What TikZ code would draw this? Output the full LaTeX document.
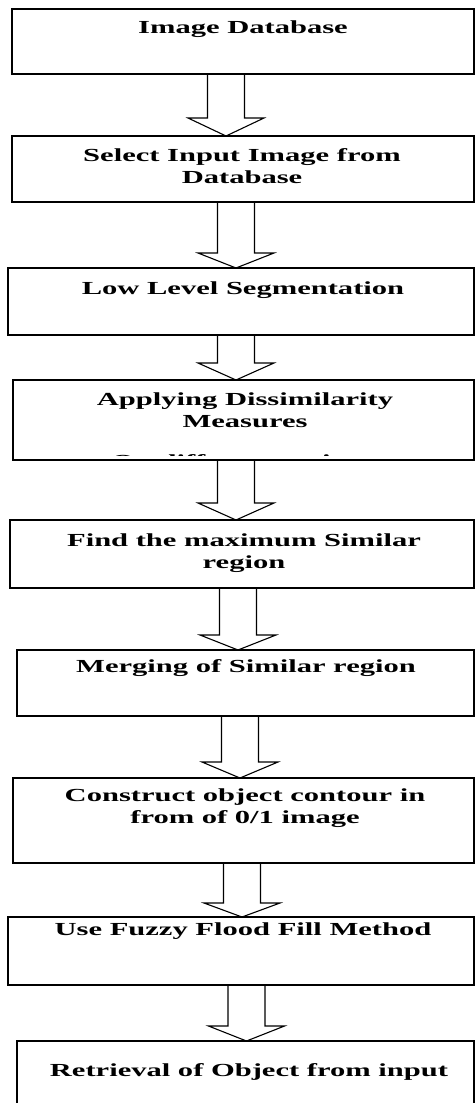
\documentclass[tikz,border=0pt]{standalone}
\usepackage{fontspec}
\setmainfont{Liberation Serif}[FakeStretch=1.66]
\usetikzlibrary{calc}
\tikzset{
  stepbox/.style={draw=black, line width=1.2pt, rectangle, inner sep=0pt, outer sep=0pt, anchor=north west},
  txt/.style={font=\fontsize{18.4}{22}\selectfont\bfseries, align=center, anchor=base, inner sep=0pt},
  barrow/.style={draw=black, line width=1.1pt, line join=miter},
}
\newcommand{\mkbox}[5]{%
  \node[stepbox, minimum width=#4pt-#2pt, minimum height=#5pt-#3pt] (#1) at (#2,-#3) {};}
\newcommand{\barr}[4]{%
  \draw[barrow] let \p1=(#1.south), \p2=(#2.north) in
    ({(#3-18.5)*1pt},\y1) -- ({(#3-18.5)*1pt},{-#4pt}) -- ({(#3-38)*1pt},{-#4pt})
    -- ({#3*1pt},\y2) -- ({(#3+38)*1pt},{-#4pt}) -- ({(#3+18.5)*1pt},{-#4pt})
    -- ({(#3+18.5)*1pt},\y1);}
\begin{document}
\begin{tikzpicture}[x=1pt,y=1pt]
\useasboundingbox (0,0) rectangle (475,-1103);
\clip (0,0) rectangle (475,-1103);
\mkbox{b1}{12}{9}{474}{74}
\mkbox{b2}{12}{136}{474}{202}
\mkbox{b3}{8}{268}{474}{335}
\mkbox{b4}{13}{380}{474}{460}
\mkbox{b5}{10}{520}{474}{588}
\mkbox{b6}{17}{650}{474}{716}
\mkbox{b7}{13}{778}{474}{863}
\mkbox{b8}{8}{917}{474}{985}
\mkbox{b9}{17}{1041}{474}{1120}
% multi-line nodes: base anchor = baseline of the last line
\node[txt] (t1) at (243,-33) {Image Database};
\node[txt] (t2) at (242,-183) {Select Input Image from\\Database};
\node[txt] (t3) at (243,-294) {Low Level Segmentation};
\node[txt] (t4) at (245,-427) {Applying Dissimilarity\\Measures};
\begin{scope}
  \clip (0,-440) rectangle (475,-455.5);
  \node[txt] (t4c) at (243,-467.5) {On different regions};
\end{scope}
\node[txt] (t5) at (244,-568) {Find the maximum Similar\\region};
\node[txt] (t6) at (246,-672) {Merging of Similar region};
\node[txt] (t7) at (245,-823) {Construct object contour in\\from of 0/1 image};
\node[txt] (t8) at (243,-935) {Use Fuzzy Flood Fill Method};
\node[txt] (t9) at (249,-1076) {Retrieval of Object from input};
\barr{b1}{b2}{226}{118}
\barr{b2}{b3}{236}{253}
\barr{b3}{b4}{236}{363}
\barr{b4}{b5}{236}{503}
\barr{b5}{b6}{238}{635}
\barr{b6}{b7}{240}{762}
\barr{b7}{b8}{242}{903}
\barr{b8}{b9}{246.5}{1026}
\end{tikzpicture}
\end{document}
